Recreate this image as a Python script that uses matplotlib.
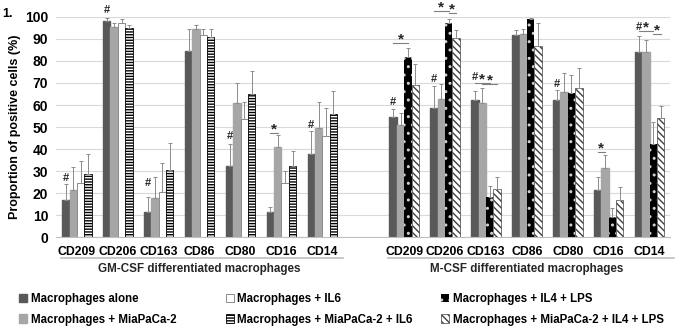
import numpy as np
import matplotlib
matplotlib.use('Agg')
import matplotlib.pyplot as plt
from matplotlib.patches import Patch
import matplotlib.transforms as mtransforms

plt.rcParams['font.family'] = ['Liberation Sans', 'DejaVu Sans']
plt.rcParams['hatch.linewidth'] = 1.0

markers = ['CD209', 'CD206', 'CD163', 'CD86', 'CD80', 'CD16', 'CD14']
groups = ['GM-CSF differentiated macrophages', 'M-CSF differentiated macrophages']

# GM-CSF differentiated macrophages (mean, sd)
gm_alone = [16.9, 98.3, 11.3, 84.7, 32.2, 11.3, 37.9]
gm_alone_sd = [7.3, 1.1, 7.1, 9.6, 10.1, 2.6, 10.4]
gm_mia = [21.4, 95.5, 17.7, 94.6, 61.0, 40.8, 49.4]
gm_mia_sd = [10.3, 1.5, 9.5, 1.6, 9.0, 5.6, 12.1]
gm_il6 = [24.5, 97.3, 20.4, 91.7, 53.5, 24.6, 45.9]
gm_il6_sd = [10.2, 1.5, 13.4, 2.9, 8.0, 5.6, 12.8]
gm_mia_il6 = [28.5, 95.0, 30.5, 90.8, 65.1, 32.5, 55.7]
gm_mia_il6_sd = [9.4, 1.2, 12.4, 3.5, 10.4, 6.5, 10.5]

# M-CSF differentiated macrophages (mean, sd)
m_alone = [54.4, 58.5, 62.2, 91.8, 62.2, 21.3, 84.1]
m_alone_sd = [3.9, 10.1, 4.1, 2.2, 4.8, 6.2, 7.4]
m_mia = [51.0, 62.7, 60.9, 92.3, 65.9, 31.3, 84.0]
m_mia_sd = [5.3, 6.8, 6.6, 2.3, 8.7, 6.2, 5.4]
m_il4lps = [81.6, 97.3, 18.3, 99.0, 65.3, 9.1, 42.3]
m_il4lps_sd = [4.4, 1.7, 5.1, 0.3, 8.3, 4.0, 10.1]
m_mia_il4lps = [69.0, 90.6, 21.7, 86.9, 67.5, 17.0, 53.9]
m_mia_il4lps_sd = [9.5, 3.4, 5.8, 10.1, 9.5, 5.9, 5.6]

labels = ['Macrophages alone', 'Macrophages + MiaPaCa-2', 'Macrophages + IL6',
          'Macrophages + MiaPaCa-2 + IL6', 'Macrophages + IL4 + LPS',
          'Macrophages + MiaPaCa-2 + IL4 + LPS']

# '#' marks: (group, marker index, y)
hash_marks = [(0, 0, 27), (0, 1, 103), (0, 2, 24.5), (0, 4, 46), (0, 6, 51),
              (1, 0, 61.5), (1, 1, 72), (1, 2, 72.5), (1, 4, 69.5), (1, 6, 95.3)]
# '*' marks: (group, marker index, bar from, bar to, line y)
star_marks = [(0, 5, 0, 1, 47.3),
              (1, 0, 0, 2, 88.1), (1, 1, 0, 2, 102.6), (1, 1, 2, 3, 101.7),
              (1, 2, 0, 2, 70.0), (1, 2, 1, 3, 69.6), (1, 5, 0, 1, 38.7),
              (1, 6, 0, 2, 93.5), (1, 6, 2, 3, 92.2)]

styles = {
    'alone': dict(color='#595959', edgecolor='#595959'),
    'mia': dict(color='#a6a6a6', edgecolor='#a6a6a6'),
    'il6': dict(facecolor='white', edgecolor='#8c8c8c', linewidth=0.7),
    'mia_il6': dict(facecolor='white', edgecolor='black', hatch='------', linewidth=0.6),
    'il4lps': dict(facecolor='black', edgecolor='#d0d0d0', hatch='..', linewidth=0),
    'mia_il4lps': dict(facecolor='white', edgecolor='#404040', hatch='\\\\\\\\\\', linewidth=0.5),
}

fig = plt.figure(figsize=(6.75, 3.3), dpi=100)
ax = fig.add_axes([0.0837, 0.281, 0.909, 0.668])

pos = [np.arange(7), np.arange(7) + 8]
w = 0.18
offsets = (np.arange(4) - 1.5) * w

group_series = [
    [(gm_alone, gm_alone_sd, 'alone'), (gm_mia, gm_mia_sd, 'mia'),
     (gm_il6, gm_il6_sd, 'il6'), (gm_mia_il6, gm_mia_il6_sd, 'mia_il6')],
    [(m_alone, m_alone_sd, 'alone'), (m_mia, m_mia_sd, 'mia'),
     (m_il4lps, m_il4lps_sd, 'il4lps'), (m_mia_il4lps, m_mia_il4lps_sd, 'mia_il4lps')],
]

for g, series in enumerate(group_series):
    for k, (vals, sd, key) in enumerate(series):
        x = pos[g] + offsets[k]
        ax.bar(x, vals, w, zorder=2, **styles[key])
        ax.errorbar(x, vals, yerr=[np.zeros(len(sd)), sd], fmt='none',
                    ecolor='#8c8c8c', elinewidth=0.7, capsize=1.2, capthick=0.7, zorder=3)

for g, i, y in hash_marks:
    ax.text(pos[g][i] + offsets[0], y, '#', ha='center', va='center',
            fontsize=8, fontweight='bold', color='#262626', clip_on=False)

for g, i, a, b, y in star_marks:
    x0 = pos[g][i] + offsets[a]
    x1 = pos[g][i] + offsets[b]
    ax.plot([x0, x1], [y, y], color='#7f7f7f', lw=0.8, clip_on=False, zorder=4)
    ax.text((x0 + x1) / 2, y - 0.2, '*', ha='center', va='baseline',
            fontsize=11, fontweight='bold', color='#262626', clip_on=False)

ax.set_xlim(-0.5, 14.5)
ax.set_ylim(0, 100)
ax.set_yticks(np.arange(0, 101, 10))
ax.yaxis.grid(True, color='#d9d9d9', lw=0.8)
ax.set_axisbelow(True)
for s in ['top', 'right', 'left']:
    ax.spines[s].set_visible(False)
ax.spines['bottom'].set_color('#bfbfbf')
ax.tick_params(axis='y', length=0, labelsize=10, pad=6)
ax.tick_params(axis='x', length=0, labelsize=8.8, pad=6)
for t in ax.get_yticklabels():
    t.set_fontweight('bold')
ax.set_xticks(np.concatenate(pos))
ax.set_xticklabels(markers + markers, fontweight='bold')
ax.set_ylabel('Proportion of positive cells (%)', fontsize=9, fontweight='bold', labelpad=3)

trans = mtransforms.blended_transform_factory(ax.transData, ax.transAxes)
line_ends = [(-0.4, 6.5), (7.6, 14.6)]
for g in range(2):
    ax.plot(line_ends[g], [-0.094, -0.094], color='#bfbfbf', lw=1.2,
            transform=trans, clip_on=False)
    ax.text((pos[g][0] + pos[g][-1]) / 2, -0.144, groups[g], transform=trans,
            ha='center', va='center', fontsize=8.4, fontweight='bold', color='#262626')

fig.text(0.004, 0.957, '1.', fontsize=9, fontweight='bold', va='center')

handles = [Patch(**styles[k]) for k in ['alone', 'mia', 'il6', 'mia_il6', 'il4lps', 'mia_il4lps']]
col_x = [0.02, 0.326, 0.645]
for c in range(3):
    leg = fig.legend(handles[2 * c:2 * c + 2], labels[2 * c:2 * c + 2], loc='upper left',
                     bbox_to_anchor=(col_x[c], 0.13), frameon=False, borderpad=0,
                     handlelength=0.7, handleheight=0.7, handletextpad=0.3,
                     labelspacing=0.75, prop={'size': 8.3, 'weight': 'bold'})

fig.savefig('out.png', dpi=100)
